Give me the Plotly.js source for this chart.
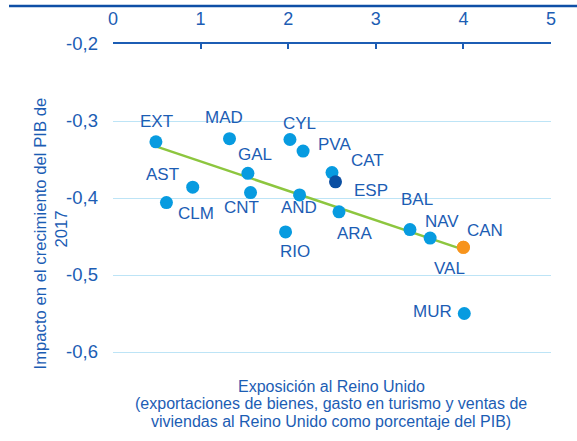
<!DOCTYPE html>
<html>
<head>
<meta charset="utf-8">
<script src="https://cdn.plot.ly/plotly-3.0.1.min.js"></script>
<style>html,body{margin:0;padding:0;background:#fff;}#chart{width:577px;height:441px;}</style>
</head>
<body>
<div id="chart"></div>
<script>
// ---- data ----
var regions = ['EXT','MAD','CYL','PVA','GAL','AST','CLM','CNT','AND','ARA','RIO','CAT','ESP','BAL','NAV','CAN','VAL','MUR'];
var exposure = [0.49, 1.33, 2.02, 2.17, 1.54, 0.91, 0.61, 1.57, 2.13, 2.58, 1.97, 2.50, 2.54, 3.39, 3.62, 4.00, 4.00, 4.01];
var impact = [-0.327, -0.323, -0.324, -0.339, -0.368, -0.386, -0.406, -0.393, -0.396, -0.418, -0.444, -0.367, -0.379, -0.441, -0.452, -0.464, -0.464, -0.550];
var groups = ['ccaa','ccaa','ccaa','ccaa','ccaa','ccaa','ccaa','ccaa','ccaa','ccaa','ccaa','ccaa','esp','ccaa','ccaa','hl','hl','ccaa'];
var trendX = [0.49, 4.00];
var trendY = [-0.333, -0.467];
var xTickVals = [0, 1, 2, 3, 4, 5];
var yTickVals = [-0.2, -0.3, -0.4, -0.5, -0.6];
var yTickText = ['-0,2', '-0,3', '-0,4', '-0,5', '-0,6'];
var xTitleLines = ['Exposición al Reino Unido',
                   '(exportaciones de bienes, gasto en turismo y ventas de',
                   'viviendas al Reino Unido como porcentaje del PIB)'];
var yTitleLines = ['Impacto en el crecimiento del PIB de', '2017'];

// ---- styles ----
var BLUE_TXT = '#1c5db4';
var LIGHT = '#079be0', DARK = '#0b4fa2', ORANGE = '#f7941d', GREEN = '#8dc63f';
var FONT = '"Liberation Sans", Arial, sans-serif';
var W = 577, H = 441, ML = 113, MR = 26, MT = 44, MB = 41;
var PW = W - ML - MR, PH = H - MT - MB;
function px2x(px){ return (px - ML) / PW; }
function py2y(py){ return (H - MB - py) / PH; }

var colorMap = {ccaa: LIGHT, esp: DARK, hl: ORANGE};
// label offsets in screen pixels (dx right, dy down)
var labelOffsets = {
  EXT:[1,-20], MAD:[-6,-21], CYL:[10,-16], PVA:[31,-7], GAL:[7,-19], AST:[-30,-13],
  CLM:[30,11], CNT:[-9,15], AND:[-1,13], ARA:[16,22], RIO:[9,20], CAT:[35,-12],
  ESP:[35,9], BAL:[7,-30], NAV:[12,-17], CAN:[22,-17], VAL:[-14,21], MUR:[-32,-2]
};

var traces = [
  {x: trendX, y: trendY, mode: 'lines', line: {color: GREEN, width: 2.5}, hoverinfo: 'skip', showlegend: false},
  {x: exposure, y: impact, mode: 'markers', text: regions,
   marker: {size: 13, color: groups.map(function(g){ return colorMap[g]; })},
   showlegend: false}
];

var annotations = [];
regions.forEach(function(r, i){
  var o = labelOffsets[r];
  annotations.push({xref: 'x', yref: 'y', x: exposure[i], y: impact[i], text: r, showarrow: false,
    xshift: o[0], yshift: -o[1], font: {family: FONT, size: 17, color: BLUE_TXT}});
});
var xTitleY = [386, 403.5, 421];
xTitleLines.forEach(function(t, i){
  annotations.push({xref: 'paper', yref: 'paper', x: px2x(331), y: py2y(xTitleY[i]), text: t, showarrow: false,
    xanchor: 'center', yanchor: 'middle', font: {family: FONT, size: 16, color: BLUE_TXT}});
});
var yTitlePos = [[39.5, 234], [60.5, 229]];
yTitleLines.forEach(function(t, i){
  annotations.push({xref: 'paper', yref: 'paper', x: px2x(yTitlePos[i][0]), y: py2y(yTitlePos[i][1]), text: t, showarrow: false,
    textangle: -90, xanchor: 'center', yanchor: 'middle', font: {family: FONT, size: 16.7, color: BLUE_TXT}});
});

var layout = {
  width: W, height: H,
  margin: {l: ML, r: MR, t: MT, b: MB, pad: 0},
  paper_bgcolor: '#fff', plot_bgcolor: '#fff',
  font: {family: FONT, size: 17, color: BLUE_TXT},
  showlegend: false,
  xaxis: {side: 'top', range: [0, 5], tickvals: xTickVals, showline: true, linecolor: BLUE_TXT, linewidth: 2,
          ticks: 'inside', ticklen: 5, tickwidth: 2, tickcolor: BLUE_TXT, showgrid: false, zeroline: false,
          ticklabelstandoff: 10, tickfont: {family: FONT, size: 18, color: BLUE_TXT}},
  yaxis: {range: [-0.2 - PH / 770, -0.2], tickvals: yTickVals, ticktext: yTickText, showgrid: true,
          gridcolor: '#bde4f6', gridwidth: 1, zeroline: false, showline: false, ticks: '',
          ticklabelstandoff: 14, tickfont: {family: FONT, size: 18.5, color: BLUE_TXT}},
  shapes: [{type: 'line', xref: 'paper', yref: 'paper', x0: px2x(9), x1: px2x(577), y0: py2y(6), y1: py2y(6),
            line: {color: '#0f4fa6', width: 2.5}}],
  annotations: annotations
};

Plotly.newPlot('chart', traces, layout, {displayModeBar: false, staticPlot: true});
</script>
</body>
</html>
